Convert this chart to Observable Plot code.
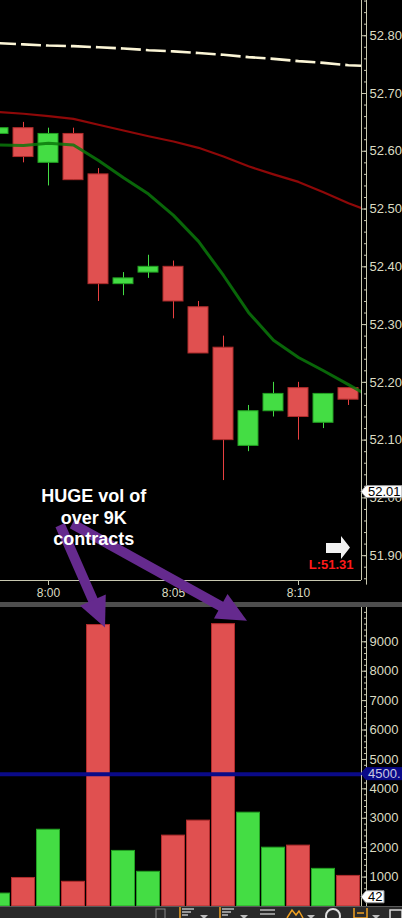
<!DOCTYPE html>
<html><head><meta charset="utf-8">
<script src="https://cdn.jsdelivr.net/npm/d3@7"></script>
<script src="https://cdn.jsdelivr.net/npm/@observablehq/plot@0.6"></script>
<style>
html,body{margin:0;padding:0;background:#000;}
#wrap{position:relative;width:402px;height:918px;background:#000;overflow:hidden;font-family:"Liberation Sans",Arial,sans-serif;}
#wrap > svg, #wrap > div{position:absolute;left:0;}
#sep{top:602px;width:402px;height:5px;background:#4e4e4e;}
#tool{top:906px;width:402px;height:12px;background:#2a2a2a;border-top:1px solid #5c5c5c;box-sizing:border-box;}
</style></head><body><div id="wrap"></div>
<script>
// ---- data ----
const times = ["7:58","7:59","8:00","8:01","8:02","8:03","8:04","8:05","8:06","8:07","8:08","8:09","8:10","8:11","8:12"];
const open  = [52.63,52.64,52.58,52.63,52.56,52.37,52.39,52.40,52.33,52.26,52.09,52.15,52.19,52.13,52.19];
const high  = [52.64,52.65,52.64,52.64,52.57,52.39,52.42,52.41,52.34,52.28,52.16,52.20,52.20,52.18,52.19];
const low   = [52.63,52.58,52.54,52.55,52.34,52.35,52.38,52.31,52.25,52.03,52.08,52.14,52.10,52.12,52.16];
const close = [52.64,52.59,52.63,52.55,52.37,52.38,52.40,52.34,52.25,52.10,52.15,52.18,52.14,52.18,52.17];
const volume = [440,970,2610,840,9570,1890,1180,2410,2920,9600,3190,2000,2070,1280,1040];

const maTimes = ["7:57:30","7:58","7:59","8:00","8:01","8:02","8:03","8:04","8:05","8:06","8:07","8:08","8:09","8:10","8:11","8:12","8:12:30"];
const maSlow  = [52.788,52.787,52.785,52.783,52.782,52.780,52.778,52.775,52.773,52.770,52.767,52.763,52.760,52.756,52.753,52.749,52.748];
const maMid   = [52.669,52.668,52.665,52.661,52.656,52.646,52.636,52.626,52.617,52.606,52.591,52.574,52.560,52.547,52.529,52.510,52.502];
const maFast  = [52.611,52.611,52.610,52.614,52.611,52.584,52.554,52.526,52.489,52.444,52.385,52.321,52.273,52.243,52.220,52.196,52.184];

const timeTickLabels = ["8:00","8:05","8:10"];
const priceTickLabels = ["51.90","52.00","52.10","52.20","52.30","52.40","52.50","52.60","52.70","52.80"];
const volTickLabels = ["1000","2000","3000","4000","5000","6000","7000","8000","9000"];
const volLevel = 4500;
const volLevelLabel = "4500.";
const priceTag = 52.01;
const volTag = 42;
const lowLabel = "L:51.31";
const noteLines = ["HUGE vol of","over 9K","contracts"];
const noteAt = {time:"8:01:50", price:51.966};
const arrowFrom = [{time:"8:00:29", price:51.952},{time:"8:00:58", price:51.954}];
const arrowTo = ["8:02","8:07"];

// ---- helpers ----
const toMin = s => { const [h,m,sec="0"] = s.split(":"); return (+h)*60 + (+m) + (+sec)/60 - 480; };
const RED = "#e05050", RED_EDGE = "#b02c2c", GREEN = "#44dd44", GREEN_EDGE = "#22a022";
const AXIS = "#dcdcc2", TICK = "#c8c8b0";
const FONT = "Liberation Sans, Arial, sans-serif";
const bars = times.map((t,i)=>({t:toMin(t), o:open[i], h:high[i], l:low[i], c:close[i], v:volume[i], up: close[i] >= open[i]}));
const ma = maTimes.map((t,i)=>({t:toMin(t), slow:maSlow[i], mid:maMid[i], fast:maFast[i]}));
const xDomain = [-1.92, 12.52];
const priceTicks = priceTickLabels.map(Number);
const minorPrice = d3.range(51.86, 52.861, 0.02).map(v=>+v.toFixed(2));
const volTicks = volTickLabels.map(Number);
const minorVol = d3.range(0, 10201, 200);
const timeTicks = timeTickLabels.map(toMin);

const wrap = document.getElementById("wrap");
const baseStyle = {background:"#000", color:AXIS, fontFamily:FONT, fontSize:"13px", overflow:"visible"};

const price = Plot.plot({
  width:402, height:602, marginTop:0, marginLeft:0, marginRight:41, marginBottom:22,
  style: baseStyle,
  color:{type:"identity"},
  x:{type:"linear", domain:xDomain, label:null},
  y:{domain:[51.857, 52.861], label:null},
  marks:[
    Plot.ruleX(bars, {x:"t", y1:"l", y2:"h", stroke:d=>d.up?GREEN:"#e84040", strokeWidth:1, clip:true}),
    Plot.rect(bars, {x1:d=>d.t-0.4, x2:d=>d.t+0.4, y1:"o", y2:"c", fill:d=>d.up?GREEN:RED, stroke:d=>d.up?GREEN_EDGE:RED_EDGE, strokeWidth:1, clip:true}),
    Plot.line(ma, {x:"t", y:"mid", stroke:"#8e0808", strokeWidth:2.2, clip:true}),
    Plot.line(ma, {x:"t", y:"fast", stroke:"#0b780b", strokeWidth:3, strokeOpacity:0.85, clip:true}),
    Plot.line(ma, {x:"t", y:"slow", stroke:"#fbf5d6", strokeWidth:2.6, strokeDasharray:"20,5", strokeDashoffset:15, strokeLinecap:"butt", clip:true}),
    Plot.text([lowLabel], {frameAnchor:"bottom-right", dx:-8, dy:-11.5, textAnchor:"end", fill:"#ff1a1a", fontWeight:"bold", fontSize:13}),
    Plot.axisY({anchor:"right", label:null, ticks:priceTicks, tickSize:5, tickPadding:3, stroke:TICK, fill:AXIS, tickFormat:d=>d.toFixed(2)}),
    Plot.axisY({anchor:"right", label:null, ticks:minorPrice, tickSize:3, dx:2, stroke:TICK, tickFormat:()=>""}),
    Plot.axisX({anchor:"bottom", label:null, ticks:timeTicks, tickSize:5, tickPadding:3, stroke:TICK, fill:AXIS, fontSize:12, tickFormat:d=>timeTickLabels[timeTicks.indexOf(d)]}),
    Plot.ruleX([xDomain[1]], {stroke:TICK, strokeWidth:1}),
    Plot.ruleX([xDomain[1]], {dx:5, y1:51.849, y2:52.861, stroke:TICK, strokeWidth:1}),
    Plot.ruleY([51.857], {stroke:TICK, strokeWidth:1})
  ]
});
price.style.top = "0px";
wrap.appendChild(price);

const vol = Plot.plot({
  width:402, height:300, marginTop:0, marginLeft:0, marginRight:41, marginBottom:0,
  style: baseStyle,
  color:{type:"identity"},
  x:{type:"linear", domain:xDomain, axis:null},
  y:{domain:[0, 10200], label:null},
  marks:[
    Plot.rect(bars, {x1:d=>d.t-0.46, x2:d=>d.t+0.46, y1:0, y2:"v", fill:d=>d.up?GREEN:RED, stroke:d=>d.up?GREEN_EDGE:RED_EDGE, strokeWidth:1, clip:true}),
    Plot.ruleY([volLevel], {stroke:"#0a0a88", strokeWidth:4}),
    Plot.axisY({anchor:"right", label:null, ticks:volTicks, tickSize:5, tickPadding:3, stroke:TICK, fill:AXIS, tickFormat:d=>String(d)}),
    Plot.axisY({anchor:"right", label:null, ticks:minorVol, tickSize:3, dx:2, stroke:TICK, tickFormat:()=>""}),
    Plot.ruleX([xDomain[1]], {stroke:TICK, strokeWidth:1}),
    Plot.ruleX([xDomain[1]], {dx:5, stroke:TICK, strokeWidth:1})
  ]
});
vol.style.top = "606px";
wrap.appendChild(vol);

const sep = document.createElement("div"); sep.id = "sep"; wrap.appendChild(sep);

// ---- tags on the axes ----
function tag(svg, y, label, bg, fg, right) {
  const g = d3.select(svg).append("g");
  g.append("path").attr("d", `M361,${y} L366,${y-6} L${right},${y-6} L${right},${y+6} L366,${y+6} Z`)
    .attr("fill", bg).attr("stroke", bg==="#ffffff"?"#999":bg).attr("stroke-width",1);
  g.append("text").attr("x", 368).attr("y", y).attr("dy","0.36em").attr("fill", fg).attr("text-anchor","start")
    .attr("font-family",FONT).attr("font-size",13).text(label);
}
tag(price, price.scale("y").apply(priceTag), priceTag.toFixed(2), "#ffffff", "#000", 402);
tag(vol, vol.scale("y").apply(volLevel), volLevelLabel, "#0a0a88", "#c8c8e0", 404);
tag(vol, vol.scale("y").apply(volTag) - 8, String(volTag), "#ffffff", "#000", 384);

// ---- overlay: arrows, annotation and icon ----
const px = t => price.scale("x").apply(t);
const py = p => price.scale("y").apply(p);
const vy = v => vol.scale("y").apply(v) + 606;
const over = d3.create("svg").attr("width",402).attr("height",918).style("top","0px");
const PURPLE = "#652a8e";
const tipOffsets = [[7,3],[24,-3]];
arrowFrom.forEach((a,i)=>{
  const b = bars.find(d=>d.t===toMin(arrowTo[i]));
  const x0 = px(toMin(a.time)), y0 = py(a.price);
  const x1 = px(b.t) + tipOffsets[i][0], y1 = vy(b.v) + tipOffsets[i][1];
  const dx = x1-x0, dy = y1-y0, len = Math.hypot(dx,dy), ux = dx/len, uy = dy/len;
  const L = 30, W = 14;
  const bx = x1-L*ux, by = y1-L*uy;
  over.append("line").attr("x1",x0).attr("y1",y0).attr("x2",bx+2*ux).attr("y2",by+2*uy)
    .attr("stroke",PURPLE).attr("stroke-width",10);
  over.append("path").attr("d",`M${x1},${y1} L${bx-W*uy},${by+W*ux} L${bx+W*uy},${by-W*ux} Z`).attr("fill",PURPLE);
});
const nx = px(toMin(noteAt.time)), ny = py(noteAt.price);
noteLines.forEach((s,i)=>{
  over.append("text").attr("x",nx).attr("y",ny+(i-1)*21.4).attr("dy","0.36em").attr("text-anchor","middle")
    .attr("font-family",FONT).attr("font-weight","bold").attr("font-size",18).attr("fill","#ffffff").text(s);
});
over.append("path").attr("d","M326,543 H341 V536 L350,547.5 L341,559 V553 H326 Z").attr("fill","#f2f2f2");
wrap.appendChild(over.node());

// ---- bottom toolbar ----
const tool = document.createElement("div"); tool.id = "tool"; wrap.appendChild(tool);
const tb = d3.create("svg").attr("width",402).attr("height",12).style("top","907px");
const G = "#bdbdbd", O = "#f0a020";
tb.append("rect").attr("x",156).attr("y",2).attr("width",9).attr("height",10).attr("fill","none").attr("stroke","#888");
[180,220].forEach(x=>{
  tb.append("line").attr("x1",x).attr("x2",x).attr("y1",0).attr("y2",12).attr("stroke",O).attr("stroke-width",1.5);
  [2,5,8].forEach((y,k)=>tb.append("line").attr("x1",x+2).attr("x2",x+14-k*3).attr("y1",y).attr("y2",y).attr("stroke",G).attr("stroke-width",1.5));
  tb.append("path").attr("d",`M${x+20},8 h8 l-4,4 z`).attr("fill",G);
});
[3,7].forEach(y=>tb.append("line").attr("x1",260).attr("x2",275).attr("y1",y).attr("y2",y).attr("stroke","#ddd").attr("stroke-width",1.2));
tb.append("path").attr("d","M287,11 L292,3 L296,8 L299,4 L303,11").attr("fill","none").attr("stroke",O).attr("stroke-width",1.5);
tb.append("path").attr("d","M307,8 h8 l-4,4 z").attr("fill",G);
tb.append("circle").attr("cx",333).attr("cy",9).attr("r",7).attr("fill","none").attr("stroke","#ddd").attr("stroke-width",2);
tb.append("path").attr("d","M354,1 V11 H367 V1 M357,6 H364").attr("fill","none").attr("stroke",O).attr("stroke-width",1.5);
tb.append("path").attr("d","M372,8 h8 l-4,4 z").attr("fill",G);
tb.append("rect").attr("x",390).attr("y",3).attr("width",12).attr("height",9).attr("fill","none").attr("stroke","#ddd").attr("stroke-width",1.5);
wrap.appendChild(tb.node());
</script></body></html>
